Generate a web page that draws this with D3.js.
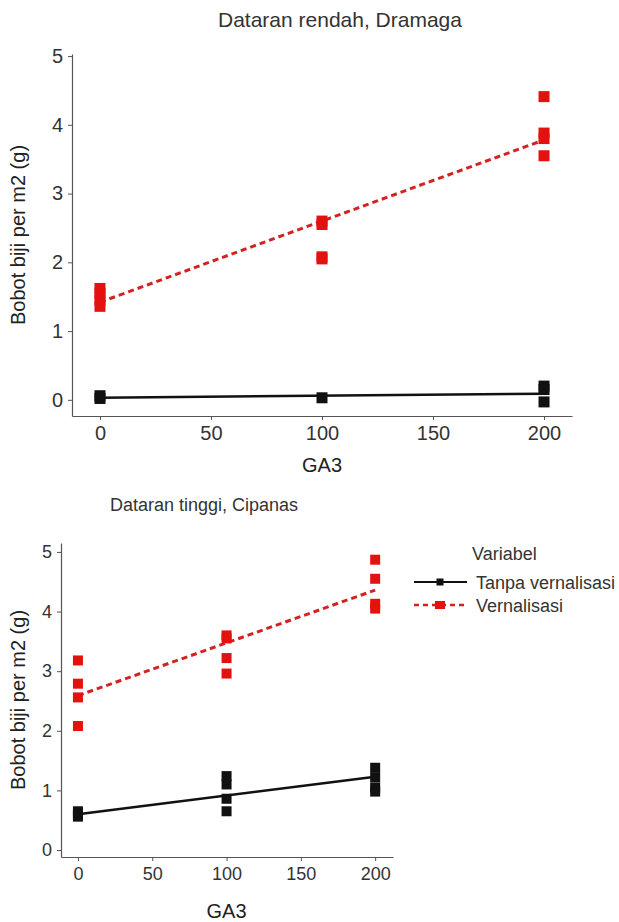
<!DOCTYPE html>
<html>
<head>
<meta charset="utf-8">
<script src="https://cdn.jsdelivr.net/npm/d3@7"></script>
<style>
  body { margin: 0; background: #fff; }
  svg { display: block; font-family: 'Liberation Sans', Arial, sans-serif; }
</style>
</head>
<body>
<div id="chart"></div>
<script>
// GA3 doses and observed seed weight per m2 (g)
const doses = [0, 100, 200];
const xTicks = [0, 50, 100, 150, 200];
const yTicks = [0, 1, 2, 3, 4, 5];

const seriesNames = ['Tanpa vernalisasi', 'Vernalisasi'];

// Dataran rendah, Dramaga
const lowTanpa = [[0.02, 0.06], [0.03], [0.2, 0.15, -0.03]];
const lowVern = [[1.36, 1.45, 1.55, 1.62], [2.05, 2.08, 2.55, 2.6], [4.41, 3.88, 3.8, 3.55]];
const lowFitTanpa = [0.03, 0.09];
const lowFitVern = [1.42, 3.78];

// Dataran tinggi, Cipanas
const highTanpa = [[0.56, 0.6, 0.65], [1.24, 1.1, 0.86, 0.65], [1.38, 1.22, 1.05, 0.98]];
const highVern = [[3.18, 2.79, 2.56, 2.08], [3.6, 3.55, 3.22, 2.96], [4.87, 4.55, 4.13, 4.05]];
const highFitTanpa = [0.6, 1.23];
const highFitVern = [2.59, 4.36];

const BLACK = '#111';
const RED = '#e3120e';
const RED_LINE = '#d42222';
const AXIS_COLOR = '#555';

const WIDTH = 619;
const HEIGHT = 922;

const svg = d3
  .select('#chart')
  .append('svg')
  .attr('width', WIDTH)
  .attr('height', HEIGHT);

drawPanel({
  title: 'Dataran rendah, Dramaga',
  titleX: 340,
  titleY: 27,
  titleSize: 21,
  xDomain: [-12.6, 212.6],
  xRange: [72, 572],
  yDomain: [-0.235, 5.03],
  yRange: [416, 54],
  tickSize: 20,
  yLabelX: 25,
  xLabelY: 472,
  markerSize: 11,
  tanpa: lowTanpa,
  vern: lowVern,
  fitTanpa: lowFitTanpa,
  fitVern: lowFitVern,
});

drawPanel({
  title: 'Dataran tinggi, Cipanas',
  titleX: 204,
  titleY: 511,
  titleSize: 18,
  xDomain: [-11.4, 212],
  xRange: [61, 393],
  yDomain: [-0.117, 5.15],
  yRange: [857, 543],
  tickSize: 18,
  yLabelX: 25,
  xLabelY: 918,
  markerSize: 10,
  tanpa: highTanpa,
  vern: highVern,
  fitTanpa: highFitTanpa,
  fitVern: highFitVern,
});

drawLegend(svg.append('g'));

function drawPanel(cfg) {
  const g = svg.append('g');
  const x = d3.scaleLinear().domain(cfg.xDomain).range(cfg.xRange);
  const y = d3.scaleLinear().domain(cfg.yDomain).range(cfg.yRange);

  const yAxis = g
    .append('g')
    .attr('transform', `translate(${cfg.xRange[0]},0)`)
    .call(
      d3.axisLeft(y).tickValues(yTicks).tickFormat(d3.format('d')).tickSize(4).tickSizeOuter(0).tickPadding(5),
    );
  const xAxis = g
    .append('g')
    .attr('transform', `translate(0,${cfg.yRange[0]})`)
    .call(
      d3.axisBottom(x).tickValues(xTicks).tickFormat(d3.format('d')).tickSize(4).tickSizeOuter(0).tickPadding(6),
    );

  [yAxis, xAxis].forEach((axis) => {
    axis.select('.domain').attr('stroke', AXIS_COLOR).attr('stroke-width', 1.2);
    axis.selectAll('.tick line').attr('stroke', AXIS_COLOR);
    axis
      .selectAll('.tick text')
      .attr('fill', '#333')
      .attr('font-size', cfg.tickSize + 'px')
      .attr('font-family', "'Liberation Sans', Arial, sans-serif");
  });

  g.append('text')
    .attr('x', cfg.titleX)
    .attr('y', cfg.titleY)
    .attr('text-anchor', 'middle')
    .attr('font-size', cfg.titleSize + 'px')
    .attr('fill', '#333')
    .text(cfg.title);

  const plotMidY = (cfg.yRange[0] + cfg.yRange[1]) / 2;
  g.append('text')
    .attr('transform', `translate(${cfg.yLabelX},${plotMidY}) rotate(-90)`)
    .attr('text-anchor', 'middle')
    .attr('font-size', '20px')
    .attr('fill', '#222')
    .text('Bobot biji per m2 (g)');

  g.append('text')
    .attr('x', x(100))
    .attr('y', cfg.xLabelY)
    .attr('text-anchor', 'middle')
    .attr('font-size', '20px')
    .attr('fill', '#222')
    .text('GA3');

  // fitted lines
  const line = d3
    .line()
    .x((d) => x(d[0]))
    .y((d) => y(d[1]));

  g.append('path')
    .datum([[doses[0], cfg.fitTanpa[0]], [doses[2], cfg.fitTanpa[1]]])
    .attr('d', line)
    .attr('fill', 'none')
    .attr('stroke', BLACK)
    .attr('stroke-width', 2.5);

  g.append('path')
    .datum([[doses[0], cfg.fitVern[0]], [doses[2], cfg.fitVern[1]]])
    .attr('d', line)
    .attr('fill', 'none')
    .attr('stroke', RED_LINE)
    .attr('stroke-width', 3)
    .attr('stroke-dasharray', '6,4');

  // observations
  drawPoints(g, cfg.tanpa, x, y, BLACK, cfg.markerSize);
  drawPoints(g, cfg.vern, x, y, RED, cfg.markerSize);
}

function drawPoints(g, groups, x, y, color, size) {
  const points = [];
  groups.forEach((values, i) => values.forEach((v) => points.push([doses[i], v])));
  g.append('g')
    .selectAll('rect')
    .data(points)
    .join('rect')
    .attr('x', (d) => x(d[0]) - size / 2)
    .attr('y', (d) => y(d[1]) - size / 2)
    .attr('width', size)
    .attr('height', size)
    .attr('fill', color);
}

function drawLegend(g) {
  g.append('text')
    .attr('x', 472)
    .attr('y', 560)
    .attr('font-size', '18px')
    .attr('fill', '#333')
    .text('Variabel');

  const rows = [
    { name: seriesNames[0], y: 582, color: BLACK, dash: null },
    { name: seriesNames[1], y: 605, color: RED_LINE, dash: '5,4' },
  ];

  rows.forEach((row, i) => {
    g.append('line')
      .attr('x1', 414)
      .attr('x2', 467)
      .attr('y1', row.y)
      .attr('y2', row.y)
      .attr('stroke', row.color)
      .attr('stroke-width', i === 0 ? 2 : 2.5)
      .attr('stroke-dasharray', row.dash);
    g.append('rect')
      .attr('x', 440 - (i === 0 ? 3.5 : 5))
      .attr('y', row.y - (i === 0 ? 3.5 : 4))
      .attr('width', i === 0 ? 7 : 10)
      .attr('height', i === 0 ? 7 : 8)
      .attr('fill', i === 0 ? BLACK : RED);
    g.append('text')
      .attr('x', 476)
      .attr('y', row.y + 7)
      .attr('font-size', '18px')
      .attr('fill', '#333')
      .text(row.name);
  });
}
</script>
</body>
</html>
